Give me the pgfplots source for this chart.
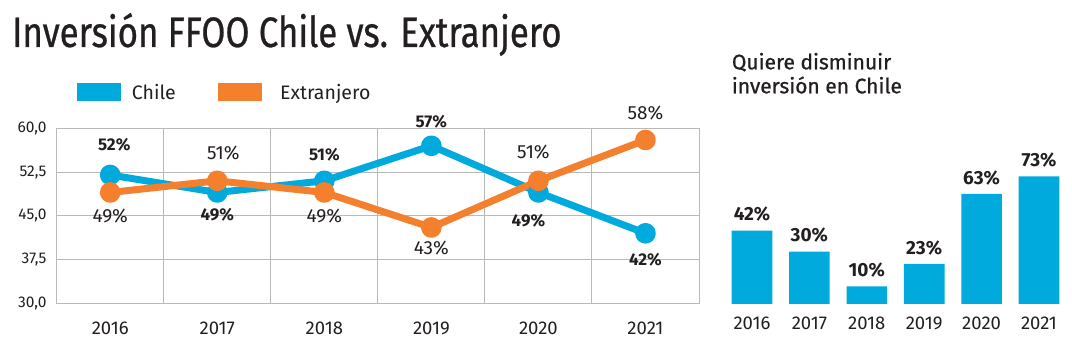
\documentclass[border=0pt]{standalone}
\usepackage{pgfplots}
\pgfplotsset{compat=1.18}
\usepackage{fontspec}
\setmainfont{Fira Sans}
\newfontfamily\condt[FakeStretch=0.82, FakeBold=0.6]{Fira Sans}
\newfontfamily\semib[FakeBold=0.8]{Fira Sans}
\definecolor{cblue}{RGB}{0,170,220}
\definecolor{corange}{RGB}{244,128,46}
\definecolor{gridc}{RGB}{185,185,185}
\definecolor{txt}{RGB}{35,31,32}
\newcommand\fs[1]{\fontsize{#1}{#1}\selectfont}
\begin{document}
\begin{tikzpicture}
\path (0pt,0pt) rectangle (1072pt,364pt);
\node[anchor=base west, inner sep=0pt, text=txt] at (12pt,317pt) {\condt\fs{42.5}Inversión FFOO Chile vs. Extranjero};
\node[anchor=base west, inner sep=0pt, text=txt] at (731.7pt,294.7pt) {\semib\fs{21}Quiere disminuir};
\node[anchor=base west, inner sep=0pt, text=txt] at (731.7pt,270.7pt) {\semib\fs{21}inversión en Chile};
% legend
\fill[cblue] (76.7pt,263.3pt) rectangle (121pt,280.7pt);
\node[anchor=base west, inner sep=0pt, text=txt, font=\fs{19.5}] at (131.7pt,264pt) {Chile};
\fill[corange] (217.7pt,263.3pt) rectangle (261.7pt,280.7pt);
\node[anchor=base west, inner sep=0pt, text=txt, font=\fs{19.5}] at (280pt,264pt) {Extranjero};

\begin{axis}[
  at={(56.7pt,60.7pt)}, anchor=south west, scale only axis,
  width=642.3pt, height=175pt,
  xmin=-0.5, xmax=5.5, ymin=30, ymax=60,
  xtick={0,1,2,3,4,5},
  xticklabels={2016,2017,2018,2019,2020,2021},
  minor xtick={0.5,1.5,2.5,3.5,4.5},
  ytick={30,37.5,45,52.5,60},
  yticklabels={{30,0},{37,5},{45,0},{52,5},{60,0}},
  ymajorgrids, xminorgrids,
  grid style={gridc, line width=1pt},
  minor grid style={gridc, line width=1pt},
  axis line style={gridc, line width=1pt},
  major tick length=0pt, minor tick length=0pt,
  xticklabel style={anchor=center, yshift=-25pt, font=\fs{18.5}, text=txt},
  yticklabel style={anchor=east, inner sep=0pt, xshift=-10pt, font=\fs{15.5}, text=txt},
  clip=false,
]
\addplot[cblue, line width=7pt, line join=round, mark=*, mark size=6.8pt,
  mark options={fill=cblue, draw=none}]
  coordinates {(0,52) (1,49) (2,51) (3,57) (4,49) (5,42)};
\addplot[corange, line width=7pt, line join=round, mark=*, mark size=6.8pt,
  mark options={fill=corange, draw=none}]
  coordinates {(0,49) (1,51) (2,49) (3,43) (4,51) (5,58)};
\begin{scope}[every node/.style={text=txt, font=\bfseries\fs{17}, inner sep=0pt}]
\node[yshift=30pt, xshift=4pt] at (axis cs:0,52) {52\%};
\node[yshift=-22.5pt] at (axis cs:1,49) {49\%};
\node[yshift=26pt] at (axis cs:2,51) {51\%};
\node[yshift=24pt] at (axis cs:3,57) {57\%};
\node[yshift=-28pt, xshift=-10pt] at (axis cs:4,49) {49\%};
\node[yshift=-26pt] at (axis cs:5,42) {42\%};
\end{scope}
\begin{scope}[every node/.style={text=txt, font=\fs{19}, inner sep=0pt}]
\node[yshift=-23.5pt] at (axis cs:0,49) {49\%};
\node[yshift=28pt, xshift=6pt] at (axis cs:1,51) {51\%};
\node[yshift=-23.5pt] at (axis cs:2,49) {49\%};
\node[yshift=-20.5pt] at (axis cs:3,43) {43\%};
\node[yshift=29pt, xshift=-5pt] at (axis cs:4,51) {51\%};
\node[yshift=27pt] at (axis cs:5,58) {58\%};
\end{scope}
\end{axis}

\begin{axis}[
  at={(723.3pt,60pt)}, anchor=south west, scale only axis,
  width=344.4pt, height=140pt,
  xmin=-0.5, xmax=5.5, ymin=0, ymax=80,
  ybar, bar width=40.6pt,
  axis line style={draw=none},
  xtick={0,1,2,3,4,5},
  xticklabels={2016,2017,2018,2019,2020,2021},
  ytick=\empty,
  major tick length=0pt,
  xticklabel style={anchor=center, yshift=-19pt, font=\fs{18.5}, text=txt},
  clip=false,
  /pgf/number format/assume math mode=true,
  nodes near coords={\pgfmathprintnumber{\pgfplotspointmeta}\%},
  every node near coord/.append style={anchor=center, yshift=16pt, font=\bfseries\fs{19}, text=txt, inner sep=0pt},
]
\addplot[fill=cblue, draw=none] coordinates {(0,42) (1,30) (2,10) (3,23) (4,63) (5,73)};
\end{axis}
\end{tikzpicture}
\end{document}
